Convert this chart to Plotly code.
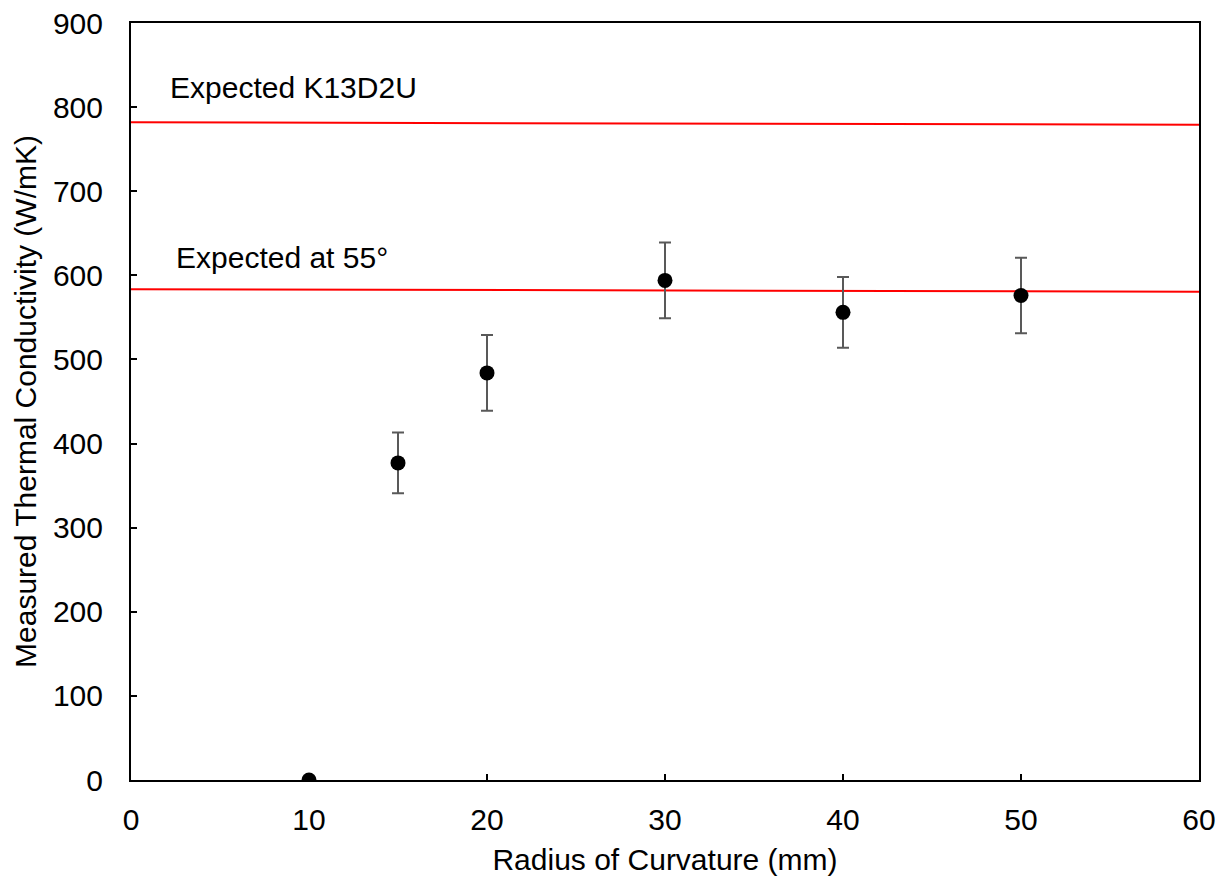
import plotly.graph_objects as go

radius = [10, 15, 20, 30, 40, 50]
conductivity = [0, 377, 484, 594, 556, 576]
error = [0, 36, 45, 45, 42, 45]

line_x = [0, 60]
expected_k13d2u = [782, 779]
expected_55 = [583.5, 580.5]

label_k13 = "Expected K13D2U"
label_55 = "Expected at 55°"

FONT = "Liberation Sans, Arial, sans-serif"
FS = 30

fig = go.Figure()
fig.add_trace(go.Scatter(x=line_x, y=expected_k13d2u, mode="lines",
                         line=dict(color="#ff0000", width=2), showlegend=False))
fig.add_trace(go.Scatter(x=line_x, y=expected_55, mode="lines",
                         line=dict(color="#ff0000", width=2), showlegend=False))
fig.add_trace(go.Scatter(
    x=radius, y=conductivity, mode="markers",
    marker=dict(color="black", size=15),
    error_y=dict(type="data", array=error, visible=True, color="#595959",
                 thickness=2, width=6),
    showlegend=False))

fig.add_annotation(x=2.1, y=782, xref="x", yref="y", text=label_k13, showarrow=False,
                   xanchor="left", yanchor="middle", yshift=35,
                   font=dict(family=FONT, size=FS, color="black"))
fig.add_annotation(x=2.4, y=583.5, xref="x", yref="y", text=label_55, showarrow=False,
                   xanchor="left", yanchor="middle", yshift=32,
                   font=dict(family=FONT, size=FS, color="black"))

axis_common = dict(showline=True, linecolor="black", linewidth=2, mirror=True,
                   ticks="inside", ticklen=6, tickwidth=2, tickcolor="black",
                   showgrid=False, zeroline=False, automargin=False,
                   tickfont=dict(family=FONT, size=FS, color="black"))

fig.update_xaxes(range=[0, 60], dtick=10, tick0=0, ticklabelstandoff=12,
                 title=dict(text="Radius of Curvature (mm)", standoff=14,
                            font=dict(family=FONT, size=FS, color="black")),
                 **axis_common)
fig.update_yaxes(range=[0, 900], dtick=100, tick0=0, ticklabelstandoff=20,
                 title=dict(text="Measured Thermal Conductivity (W/mK)", standoff=7,
                            font=dict(family=FONT, size=FS, color="black")),
                 **axis_common)

fig.update_layout(width=1228, height=879, plot_bgcolor="white", paper_bgcolor="white",
                  margin=dict(l=131, r=29, t=23, b=99))

fig.write_html("out.html")
